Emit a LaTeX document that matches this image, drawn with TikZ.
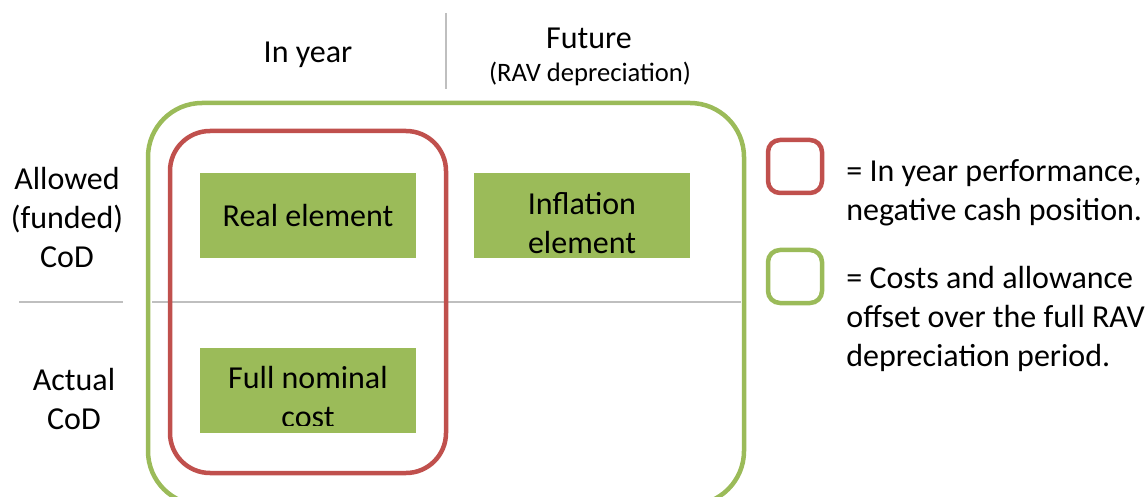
\documentclass[tikz,border=0pt]{standalone}
\usepackage{fontspec}
\setmainfont{Carlito}
\definecolor{olive}{HTML}{9BBB59}
\definecolor{brick}{HTML}{C0504D}
\definecolor{divider}{HTML}{BFBFBF}
\tikzset{
	txt/.style={align=center, inner sep=0pt, font=\fontsize{16}{19.5}\selectfont},
	elem/.style={fill=olive, minimum width=108pt, minimum height=42.5pt, inner sep=0pt},
	keybox/.style={line width=2.25pt, rounded corners=6pt},
	keytext/.style={align=left, anchor=west, inner sep=0pt, font=\fontsize{16}{19.5}\selectfont},
}
\begin{document}
\begin{tikzpicture}[x=0.5pt,y=-0.5pt]
	\useasboundingbox (0,0) rectangle (1145,497);
	\clip (0,0) rectangle (1145,497);
	\draw[divider, line width=1pt] (446,13) -- (446,89);
	\draw[divider, line width=1pt] (19,302) -- (123,302);
	\draw[divider, line width=1pt] (152,302) -- (741,302);
	\node[txt] (inyear) at (308,55) {In year};
	\node[txt] (future) at (589,38) {Future};
	\node[txt, font=\fontsize{13.3}{16}\selectfont] (rav) at (590,74) {(RAV depreciation)};
	\node[txt] (allowed) at (67,217) {Allowed\\(funded)\\CoD};
	\node[txt] (actual) at (74,399) {Actual\\CoD};
	\node[elem] (real) at (308,216) {};
	\node[txt] at (real.center) {Real element};
	\node[elem] (inflation) at (582,216) {};
	\node[txt] at (582,223) {Inflation\\element};
	\node[elem] (nominal) at (308,390.5) {};
	\begin{scope}
		\clip (200,348) rectangle (416,425);
		\node[txt] at (308,397) {Full nominal\\cost};
	\end{scope}
	\draw[olive, line width=2.25pt, rounded corners=27pt] (148,103) rectangle (744,505);
	\draw[brick, line width=2.25pt, rounded corners=20pt] (170,131) rectangle (446,473);
	\draw[brick, keybox] (768,140) rectangle (822,193);
	\draw[olive, keybox] (768,250) rectangle (822,303);
	\node[keytext] (redtext) at (846,193) {= In year performance,\\negative cash position.};
	\node[keytext] (greentext) at (846,319) {= Costs and allowance\\offset over the full RAV\\depreciation period.};
\end{tikzpicture}
\end{document}
